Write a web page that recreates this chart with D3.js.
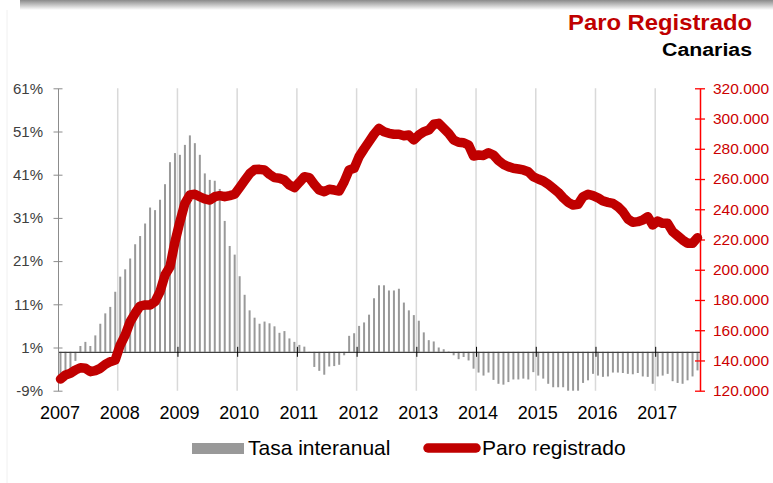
<!DOCTYPE html>
<html>
<head>
<meta charset="utf-8">
<script src="https://cdn.jsdelivr.net/npm/d3@7"></script>
<style>
  body { margin: 0; background: #fff; }
  text { font-family: "Liberation Sans", Arial, sans-serif; }
</style>
</head>
<body>
<div id="chart"></div>
<script>
// years on the category axis (one label every 12 months)
var years = ["2007","2008","2009","2010","2011","2012","2013","2014","2015","2016","2017"];

// tasa interanual (%), Jan 2007 .. Sep 2017
var tasa = [
  -5.4,-4.3,-3.9,-2.1,1.35,2.3,1.35,3.8,6.5,8.9,10.4,13.9,
  17.4,19.1,21.6,24.9,26.8,29.7,33.4,32.8,35.2,38.8,43.9,46.0,
  45.6,47.9,50.1,48.3,45.6,41.3,39.8,39.6,37.7,30.3,24.5,22.5,
  17.5,13.2,9.6,7.9,6.5,7.0,6.6,5.9,4.4,4.8,3.1,2.3,
  1.6,1.2,-0.2,-3.5,-4.4,-5.3,-3.4,-3.3,-3.0,-0.8,3.7,4.3,
  6.0,6.8,8.6,12.4,15.4,15.4,14.2,14.2,14.6,11.4,9.6,8.5,
  7.2,4.5,2.7,2.4,1.0,0.6,0.1,-0.8,-1.7,-1.2,-2.0,-3.9,
  -4.8,-5.5,-4.8,-6.5,-7.4,-7.6,-7.0,-6.4,-6.4,-6.2,-6.4,-4.7,
  -5.5,-6.2,-7.4,-8.2,-8.2,-8.2,-9.0,-9.0,-9.0,-7.2,-6.6,-5.1,
  -5.5,-5.8,-5.7,-4.8,-4.8,-4.9,-5.1,-5.2,-4.9,-5.7,-5.8,-7.4,
  -5.7,-5.5,-5.1,-6.8,-7.2,-7.4,-6.6,-5.7,-4.3
];

// paro registrado (personas), Jan 2007 .. Sep 2017
var paro = [
  127700,130400,131500,133700,135200,134800,132600,133300,134800,137400,139200,140300,
  150200,156800,165600,171200,176000,176700,176700,178900,185500,196500,202000,218500,
  231800,243900,249400,249900,248300,246800,246100,248300,249000,248300,249000,249900,
  254400,259000,263500,266300,266400,266000,263100,260900,260500,259300,256000,254300,
  257800,261500,260900,256500,252700,251600,253200,252700,252100,258200,266000,267100,
  274800,279900,284700,289600,293500,291300,290200,289600,289600,288600,289100,285800,
  289100,291300,292400,296200,296800,293500,290200,285800,284300,284000,282500,275200,
  275900,275600,277400,275900,272300,269700,268200,267100,266600,266000,264800,261500,
  260000,258700,256500,253900,251200,247600,244600,242800,243300,248300,249900,249000,
  247600,245500,244600,243900,241700,238400,233600,231400,231800,232900,235100,229600,
  232200,230700,230700,225200,222500,219700,217500,217500,221200
];

var leftTicks = [-9, 1, 11, 21, 31, 41, 51, 61];
var rightTicks = [120000,140000,160000,180000,200000,220000,240000,260000,280000,300000,320000];

var width = 773, height = 483,
    margin = {top: 88.3, right: 700, bottom: 390.7, left: 58};

var svg = d3.select("#chart").append("svg")
    .attr("width", width)
    .attr("height", height);

// shadow band at the top of the slide
var grad = svg.append("defs").append("linearGradient")
    .attr("id", "shade").attr("x1", 0).attr("y1", 0).attr("x2", 0).attr("y2", 1);
grad.append("stop").attr("offset", "0%").attr("stop-color", "#8a8a8a");
grad.append("stop").attr("offset", "100%").attr("stop-color", "#ffffff");
svg.append("rect").attr("x", 20).attr("y", 0).attr("width", 753).attr("height", 10)
    .attr("fill", "url(#shade)");
svg.append("line").attr("x1", 7).attr("x2", 7).attr("y1", 10).attr("y2", height)
    .attr("stroke", "#f0f0f0").attr("stroke-width", 1);

// scales
var months = d3.range(tasa.length);
var x = d3.scaleBand().domain(months).range([margin.left, margin.right])
    .paddingInner(0.6).paddingOuter(0.3);
var xm = d3.scaleLinear().domain([0, tasa.length]).range([margin.left, margin.right]);
var yL = d3.scaleLinear().domain([-9, 61]).range([margin.bottom, margin.top]);
var yR = d3.scaleLinear().domain([120000, 320000]).range([margin.bottom, margin.top]);

var es = d3.formatLocale({decimal: ",", thousands: ".", grouping: [3], currency: ["", ""]});
var fmt = es.format(",.0f");

var yearIdx = years.map(function(d, i) { return i * 12; });

// vertical year gridlines
svg.append("g").selectAll("line")
    .data(yearIdx.slice(1))
    .enter().append("line")
    .attr("x1", (d) => xm(d)).attr("x2", (d) => xm(d))
    .attr("y1", margin.top).attr("y2", margin.bottom)
    .attr("stroke", "#d9d9d9").attr("stroke-width", 1.5);

// bars
svg.append("g").selectAll("rect")
    .data(tasa)
    .enter().append("rect")
    .attr("x", (d, i) => x(i))
    .attr("width", x.bandwidth())
    .attr("y", (d) => yL(Math.max(0, d)))
    .attr("height", (d) => Math.abs(yL(d) - yL(0)))
    .attr("fill", "#999999");

// category axis on the zero line
var xAxis = svg.append("g")
    .attr("transform", "translate(0," + yL(0) + ")")
    .call(d3.axisBottom(xm).tickValues(yearIdx).tickSizeOuter(0).tickFormat(""));
xAxis.select(".domain").attr("stroke", "#404040").attr("stroke-width", 1.2);
xAxis.selectAll(".tick line").attr("y1", -5).attr("y2", 5).attr("stroke", "#000");

// year labels
svg.append("g").selectAll("text")
    .data(years)
    .enter().append("text")
    .attr("x", (d, i) => xm(i * 12) + 2)
    .attr("y", 419)
    .attr("text-anchor", "middle")
    .style("font-size", "18px")
    .attr("fill", "#000")
    .text((d) => d);

// left axis
var gL = svg.append("g")
    .attr("transform", "translate(" + margin.left + ",0)")
    .call(d3.axisLeft(yL).tickValues(leftTicks).tickSizeOuter(0)
        .tickFormat((d) => d + "%"));
gL.select(".domain").attr("stroke", "#8c8c8c");
gL.selectAll(".tick line").attr("x1", -4.5).attr("x2", 4.5).attr("stroke", "#8c8c8c");
gL.selectAll(".tick text").attr("x", -15).style("font-size", "15px").attr("fill", "#404040");

// right axis
var gR = svg.append("g")
    .attr("transform", "translate(" + margin.right + ",0)")
    .call(d3.axisRight(yR).tickValues(rightTicks).tickSizeOuter(0).tickFormat(fmt));
gR.select(".domain").attr("stroke", "#ff0000").attr("stroke-width", 1.5);
gR.selectAll(".tick line").attr("x1", -5).attr("x2", 5).attr("stroke", "#ff0000").attr("stroke-width", 1.3);
gR.selectAll(".tick text").attr("x", 13).style("font-size", "15.5px").attr("fill", "#cc0000");
svg.selectAll(".tick text").style("font-family", "'Liberation Sans', Arial, sans-serif");

// paro registrado line
var line = d3.line()
    .x((d, i) => x(i) + x.bandwidth() / 2)
    .y((d) => yR(d));

svg.append("path")
    .datum(paro)
    .attr("d", line)
    .attr("fill", "none")
    .attr("stroke", "#c00000")
    .attr("stroke-width", 9.5)
    .attr("stroke-linejoin", "round")
    .attr("stroke-linecap", "round");

// titles
svg.append("text")
    .attr("x", 752).attr("y", 30)
    .attr("text-anchor", "end")
    .attr("textLength", 184).attr("lengthAdjust", "spacingAndGlyphs")
    .style("font-size", "21.5px").style("font-weight", "bold")
    .attr("fill", "#c00000")
    .text("Paro Registrado");

svg.append("text")
    .attr("x", 752).attr("y", 55.5)
    .attr("text-anchor", "end")
    .attr("textLength", 90).attr("lengthAdjust", "spacingAndGlyphs")
    .style("font-size", "18px").style("font-weight", "bold")
    .attr("fill", "#000")
    .text("Canarias");

// legend
var legend = svg.append("g");
legend.append("rect")
    .attr("x", 192).attr("y", 443).attr("width", 52).attr("height", 11)
    .attr("fill", "#999999");
legend.append("text")
    .attr("x", 248).attr("y", 455)
    .style("font-size", "21px").attr("fill", "#000")
    .text("Tasa interanual");
legend.append("line")
    .attr("x1", 428).attr("x2", 476).attr("y1", 448).attr("y2", 448)
    .attr("stroke", "#c00000").attr("stroke-width", 9.5).attr("stroke-linecap", "round");
legend.append("text")
    .attr("x", 482).attr("y", 455)
    .style("font-size", "21px").attr("fill", "#000")
    .text("Paro registrado");
</script>
</body>
</html>
